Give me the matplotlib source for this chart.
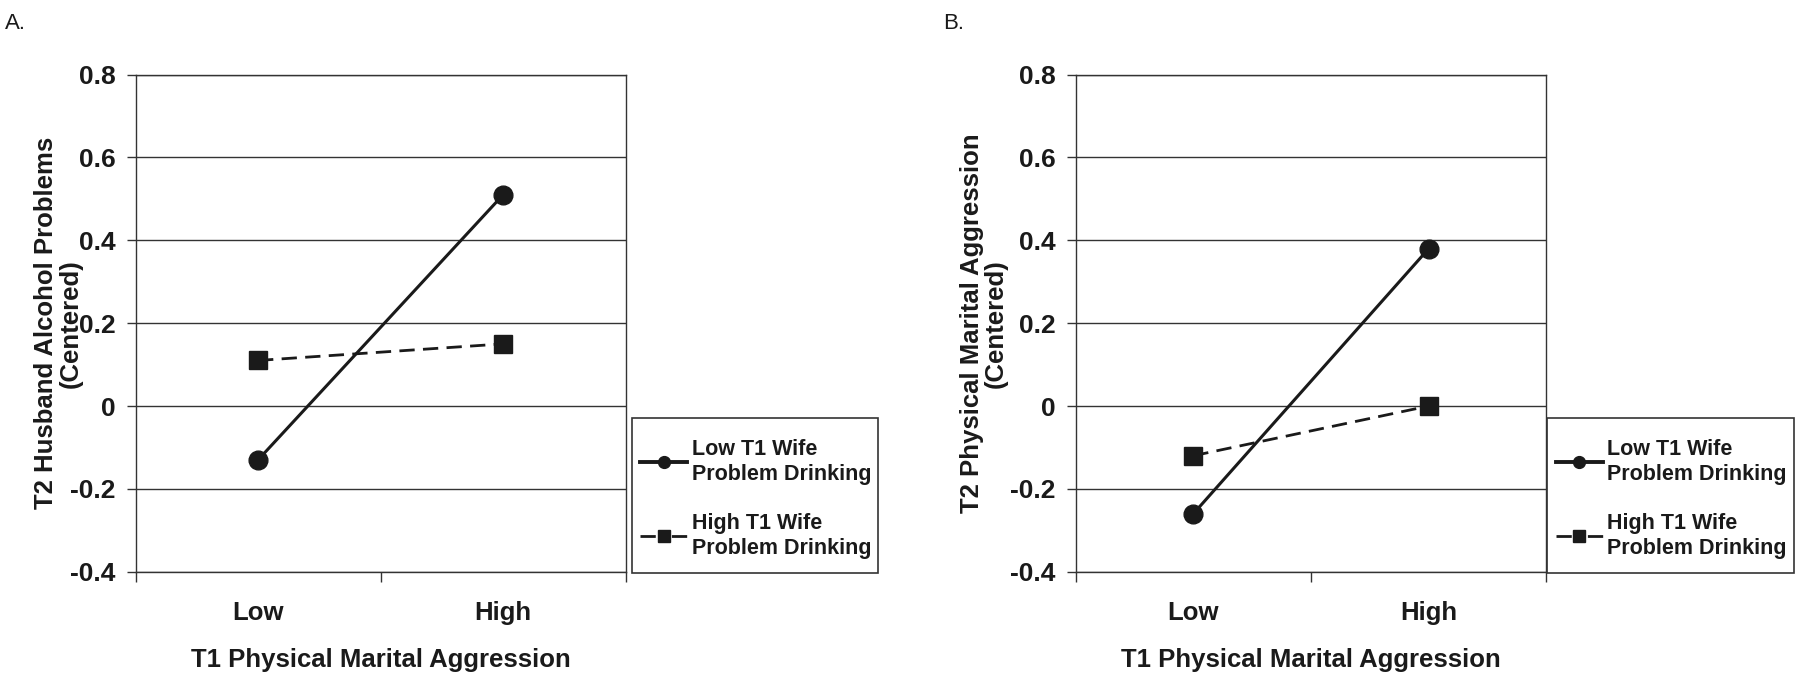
import matplotlib
matplotlib.use("Agg")
import matplotlib.pyplot as plt
from matplotlib.patches import Rectangle
from matplotlib.lines import Line2D

plt.rcParams['font.family'] = ['Liberation Sans', 'DejaVu Sans']

categories = ["Low", "High"]
yticks = [-0.4, -0.2, 0, 0.2, 0.4, 0.6, 0.8]
ytick_labels = ["-0.4", "-0.2", "0", "0.2", "0.4", "0.6", "0.8"]

a_low_wife = [-0.13, 0.51]
a_high_wife = [0.11, 0.15]
b_low_wife = [-0.26, 0.38]
b_high_wife = [-0.12, 0.0]

series_labels = ["Low T1 Wife\nProblem Drinking", "High T1 Wife\nProblem Drinking"]
xlabel = "T1 Physical Marital Aggression"
ylabels = ["T2 Husband Alcohol Problems\n(Centered)", "T2 Physical Marital Aggression\n(Centered)"]
panel_letters = ["A.", "B."]

fig = plt.figure(figsize=(18, 6.77), dpi=100)

axes_rects = [[0.0753, 0.1555, 0.2723, 0.7343], [0.5976, 0.1555, 0.2615, 0.7343]]
legend_rects = [[0.351, 0.154, 0.137, 0.229], [0.8597, 0.154, 0.137, 0.229]]
letter_pos = [(0.003, 0.966), (0.524, 0.966)]
ylabel_x = [-0.107, -0.145]
ylabel_ls = [1.05, 0.97]
data = [(a_low_wife, a_high_wife), (b_low_wife, b_high_wife)]
ink = '#1a1a1a'

for i in range(2):
    ax = fig.add_axes(axes_rects[i])
    low, high = data[i]
    xs = [0.5, 1.5]
    ax.plot(xs, low, color=ink, lw=2.2, marker='o', ms=13.5, zorder=3)
    ax.plot(xs, high, color=ink, lw=2.0, ls=(0, (5.5, 3)), marker='s', ms=12.5, zorder=3)
    ax.set_xlim(0, 2)
    ax.set_ylim(-0.4, 0.8)
    ax.set_yticks(yticks)
    ax.set_yticklabels(ytick_labels)
    ax.set_xticks([0, 1, 2])
    ax.set_xticklabels([])
    ax.set_xticks(xs, minor=True)
    ax.set_xticklabels(categories, minor=True)
    ax.tick_params(axis='x', which='minor', length=0, pad=21, labelsize=18.5)
    ax.tick_params(axis='x', which='major', length=7, width=1, direction='out', color='#333333')
    ax.tick_params(axis='y', length=6.5, width=1, direction='out', labelsize=19, pad=8, color='#333333')
    for lab in ax.get_xticklabels(minor=True) + ax.get_yticklabels():
        lab.set_fontweight('bold')
        lab.set_color(ink)
    for y in yticks:
        ax.axhline(y, color='#333333', lw=1.0, zorder=1)
    for s in ax.spines.values():
        s.set_color('#333333')
        s.set_linewidth(1.0)
    ax.set_xlabel(xlabel, fontsize=18.5, fontweight='bold', labelpad=16.5, color=ink)
    ax.set_ylabel(ylabels[i], fontsize=18.5, fontweight='bold', color=ink, linespacing=ylabel_ls[i])
    ax.yaxis.set_label_coords(ylabel_x[i], 0.5)

    lr = legend_rects[i]
    fig.patches.append(Rectangle((lr[0], lr[1]), lr[2], lr[3], transform=fig.transFigure,
                                 fill=False, edgecolor='#333333', lw=1.2))
    handles = [Line2D([], [], color=ink, lw=2.8, marker='o', ms=8.5),
               Line2D([], [], color=ink, lw=2.0, ls=(0, (5.5, 1.1, 3.6, 1.1, 5.5, 1.1)),
                      marker='s', ms=9)]
    leg = fig.legend(handles, series_labels, loc='center left',
                     bbox_to_anchor=(lr[0] + 0.0045, 0.263), bbox_transform=fig.transFigure,
                     frameon=False, prop={'weight': 'bold', 'size': 15.5}, handlelength=2.2,
                     handletextpad=0.2, labelspacing=1.3, borderaxespad=0, borderpad=0)
    for t in leg.get_texts():
        t.set_color(ink)
        t.set_linespacing(1.25)
    fig.text(letter_pos[i][0], letter_pos[i][1], panel_letters[i], fontsize=16, va='center', ha='left', color=ink)

fig.savefig("out.png", dpi=100)
